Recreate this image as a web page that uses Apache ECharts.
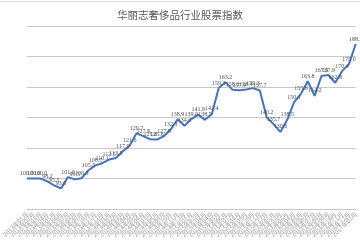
<!DOCTYPE html>
<html><head><meta charset="utf-8">
<script src="https://cdn.jsdelivr.net/npm/echarts@6/dist/echarts.min.js"></script>
<style>html,body{margin:0;padding:0;background:#fff}#c{width:360px;height:240px}</style>
</head><body><div id="c"></div>
<script>
const chartTitle = '华丽志奢侈品行业股票指数';
const months = [
 '2013年01月','2013年02月','2013年03月','2013年04月','2013年05月','2013年06月','2013年07月','2013年08月','2013年09月','2013年10月','2013年11月','2013年12月',
 '2014年01月','2014年02月','2014年03月','2014年04月','2014年05月','2014年06月','2014年07月','2014年08月','2014年09月','2014年10月','2014年11月','2014年12月',
 '2015年01月','2015年02月','2015年03月','2015年04月','2015年05月','2015年06月','2015年07月','2015年08月','2015年09月','2015年10月','2015年11月','2015年12月',
 '2016年01月','2016年02月','2016年03月','2016年04月','2016年05月','2016年06月','2016年07月','2016年08月','2016年09月','2016年10月','2016年11月','2016年12月',
 '2017年01月'
];
const indexValues = [
 100.0, 100.0, 100.0, 98.2, 95.5, 93.6, 101.0, 99.5, 100.3, 105.5, 108.7, 110.1,
 112.5, 113.5, 117.9, 121.6, 129.7, 127.8, 125.8, 125.6, 127.8, 132.3, 138.9, 134.6,
 139.0, 141.9, 138.5, 142.4, 159.3, 163.2, 158.3, 157.9, 158.4, 159.3, 157.7, 140.2,
 135.7, 130.6, 138.5, 150.1, 155.6, 163.8, 154.2, 167.3, 167.9, 162.8, 170.4, 175.0,
 188.2
];
const yMin = 80, yMax = 200, yStep = 20;

const chart = echarts.init(document.getElementById('c'), null, {renderer: 'canvas'});
chart.setOption({
  animation: false,
  backgroundColor: '#ffffff',
  title: {
    text: chartTitle, left: 'center', top: 5,
    textStyle: {fontSize: 10.5, fontWeight: 'normal', color: '#595959', fontFamily: 'Noto Sans CJK SC'}
  },
  graphic: [{type: 'line', shape: {x1: 0, y1: 1.5, x2: 360, y2: 1.5}, style: {stroke: '#dcdcdc', lineWidth: 1}}],
  grid: {left: 0, right: 1, top: 26, bottom: 29, containLabel: false},
  xAxis: {
    type: 'category', data: months, boundaryGap: false,
    axisLine: {show: true, lineStyle: {color: '#c8c8c8', width: 1}},
    axisTick: {show: false},
    splitLine: {show: false},
    axisLabel: {rotate: 45, interval: 0, fontSize: 6, color: '#9a9a9a', margin: 4, fontFamily: 'Noto Sans CJK SC'}
  },
  yAxis: {
    type: 'value', min: yMin, max: yMax, interval: yStep,
    axisLabel: {show: false}, axisLine: {show: false}, axisTick: {show: false},
    splitLine: {show: true, lineStyle: {color: '#c8c8c8', width: 1, type: 'solid'}}
  },
  series: [{
    type: 'line', data: indexValues,
    symbol: 'circle', symbolSize: 0, showSymbol: true,
    lineStyle: {color: '#4472c4', width: 2},
    itemStyle: {color: '#4472c4'},
    label: {
      show: true, position: 'top', distance: 2, fontSize: 6, color: '#505050',
      fontFamily: 'Liberation Serif',
      formatter: p => p.value.toFixed(1)
    }
  }]
});
</script>
</body></html>
